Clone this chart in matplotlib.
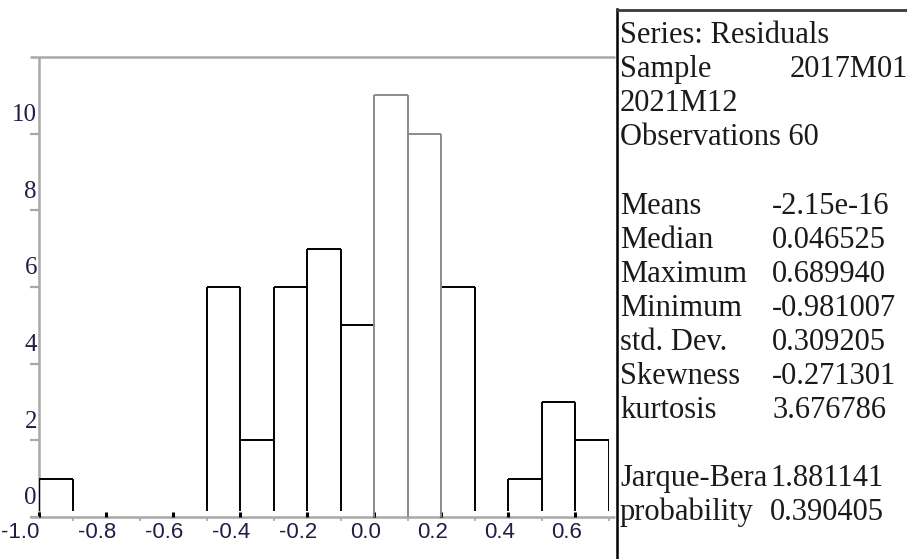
import matplotlib
matplotlib.use("Agg")
import matplotlib.pyplot as plt
import numpy as np
from matplotlib.transforms import ScaledTranslation
from matplotlib.lines import Line2D

# ---------------- data ----------------
bin_left = [-1.0, -0.9, -0.8, -0.7, -0.6, -0.5, -0.4, -0.3, -0.2, -0.1,
            0.0, 0.1, 0.2, 0.3, 0.4, 0.5, 0.6]
counts = [1, 0, 0, 0, 0, 6, 2, 6, 7, 5, 11, 10, 6, 0, 1, 3, 2]
bin_width = 0.1

x_ticks = [-1.0, -0.8, -0.6, -0.4, -0.2, 0.0, 0.2, 0.4, 0.6]
x_tick_labels = ["-1.0", "-0.8", "-0.6", "-0.4", "-0.2", "0.0", "0.2", "0.4", "0.6"]
x_minor_ticks = [-0.9, -0.7, -0.5, -0.3, -0.1, 0.1, 0.3, 0.5, 0.7]
y_ticks = [0, 2, 4, 6, 8, 10]
y_tick_labels = ["0", "2", "4", "6", "8", "10"]

series_title = "Series: Residuals"
sample_label = "Sample"
sample_start = "2017M01"
sample_end = "2021M12"
obs_line = "Observations 60"
stat_names = ["Means", "Median", "Maximum", "Minimum", "std. Dev.", "Skewness", "kurtosis"]
stat_values = ["-2.15e-16", "0.046525", "0.689940", "-0.981007", "0.309205", "-0.271301", "3.676786"]
test_names = ["Jarque-Bera", "probability"]
test_values = ["1.881141", "0.390405"]

# ---------------- figure ----------------
W, H = 907, 559
fig = plt.figure(figsize=(W / 100, H / 100), dpi=100)
fig.patch.set_facecolor("white")


def fx(px):
    return px / W


def fy(py):
    return 1 - py / H


ax = fig.add_axes([fx(39), fy(517), fx(609) - fx(39), fy(57) - fy(517)])
ax.set_xlim(-1.0, 0.7)
ax.set_ylim(0, 12)
for s in ax.spines.values():
    s.set_visible(False)

gray = "#a8a8a8"
# axis frame lines (left, bottom, top)
ax.plot([-0.016, 1.011], [0, 0], transform=ax.transAxes, color=gray, lw=1.8,
        clip_on=False, solid_capstyle="butt", zorder=1)
ax.plot([-0.016, 1.011], [1, 1], transform=ax.transAxes, color=gray, lw=1.8,
        clip_on=False, solid_capstyle="butt", zorder=1)
ax.plot([0, 0], [0, 1], transform=ax.transAxes, color=gray, lw=1.8,
        clip_on=False, solid_capstyle="butt", zorder=1)

# ---------------- histogram outline ----------------
lefts = np.array(bin_left)
heights = np.array(counts, dtype=float)
nz = heights > 0
top_colors = ["#8a8a8a" if h >= 10 else "black" for h in heights[nz]]
ax.hlines(heights[nz], lefts[nz], lefts[nz] + bin_width, colors=top_colors,
          lw=1.4, zorder=3)

edge_x = np.append(lefts, lefts[-1] + bin_width)
padded = np.concatenate([[0], heights, [0]])
edge_h = np.maximum(padded[:-1], padded[1:])
m = edge_h > 0
for x, h in zip(edge_x[m], edge_h[m]):
    if h >= 10:
        ax.vlines(x, 0, h, colors="#8a8a8a", lw=1.4, zorder=3)
    else:
        ax.vlines(x, 0.15, h, colors="black", lw=1.4, zorder=3)

# ---------------- ticks ----------------
tick_col = "#1e1e46"
ax.set_xticks(x_ticks)
ax.set_xticklabels(x_tick_labels, fontfamily="Liberation Sans", fontsize=16, color=tick_col)
ax.set_xticks(x_minor_ticks, minor=True)
ax.tick_params(axis="x", which="major", direction="in", length=3.6, width=2.2,
               color="black", pad=3.5)
ax.tick_params(axis="x", which="minor", direction="out", length=3, width=1.2,
               color=gray)

ax.set_yticks(y_ticks)
ax.set_yticklabels(y_tick_labels, fontfamily="Liberation Serif", fontsize=18, color=tick_col)
ax.tick_params(axis="y", which="major", direction="out", length=6.5, width=1.6,
               color=gray, pad=-5)

for i, lab in enumerate(ax.get_xticklabels()):
    dx = -19 if i == 0 else -9
    lab.set_transform(lab.get_transform() + ScaledTranslation(dx / 100, 0, fig.dpi_scale_trans))
for lab in ax.get_yticklabels():
    lab.set_transform(lab.get_transform() + ScaledTranslation(0, 21 / 100, fig.dpi_scale_trans))

# ---------------- statistics box ----------------
fig.add_artist(Line2D([fx(617), fx(617)], [fy(9), 0], transform=fig.transFigure,
                      color="black", lw=1.8))
fig.add_artist(Line2D([fx(617), 1], [fy(10), fy(10)], transform=fig.transFigure,
                      color="#3a3a3a", lw=2.0))

txt_kw = dict(transform=fig.transFigure, fontfamily="Liberation Serif", fontsize=22,
              color="#1a1a1a", va="baseline", ha="left")
col0, col1 = 620, 772
line_h = 34.1
base0 = 43


def line_y(i):
    return fy(base0 + line_h * i)


fig.text(fx(col0), line_y(0), series_title, **txt_kw)
fig.text(fx(col0), line_y(1), sample_label, **txt_kw)
fig.text(fx(790), line_y(1), sample_start, **txt_kw)
fig.text(fx(col0), line_y(2), sample_end, **txt_kw)
fig.text(fx(col0), line_y(3), obs_line, **txt_kw)
for k, (n, v) in enumerate(zip(stat_names, stat_values)):
    fig.text(fx(col0), line_y(5 + k), n, **txt_kw)
    fig.text(fx(col1), line_y(5 + k), v, **txt_kw)
for k, (n, v) in enumerate(zip(test_names, test_values)):
    fig.text(fx(col0), line_y(13 + k), n, **txt_kw)
    fig.text(fx(col1 - 2), line_y(13 + k), v, **txt_kw)

fig.savefig("out.png", dpi=100)
